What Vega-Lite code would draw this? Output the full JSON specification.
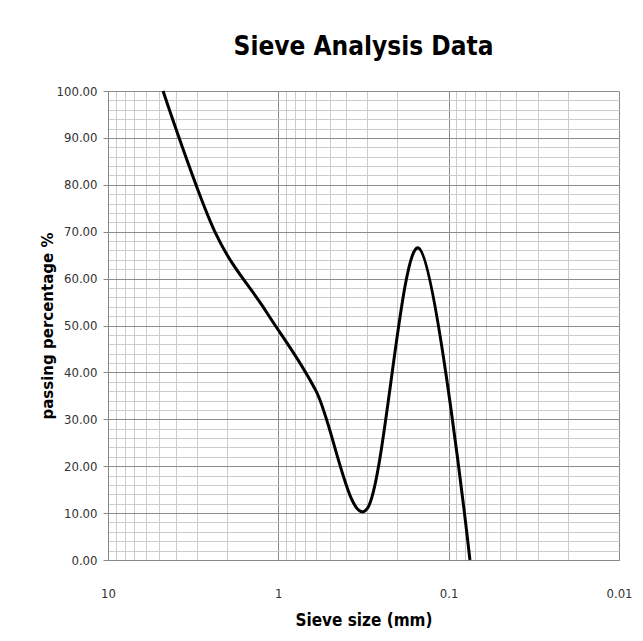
{
  "$schema": "https://vega.github.io/schema/vega-lite/v6.json",
  "width": 643,
  "height": 641,
  "autosize": {"type": "fit", "contains": "padding"},
  "padding": {"left": 40, "top": 34, "right": 10, "bottom": 13},
  "background": "white",
  "title": {
    "text": "Sieve Analysis Data",
    "font": "DejaVu Sans Condensed, sans-serif",
    "fontSize": 26,
    "fontWeight": "bold",
    "color": "black",
    "anchor": "middle",
    "offset": 25
  },
  "data": {
    "values": [
      {"size": 4.75, "passing": 100},
      {"size": 2.36, "passing": 70},
      {"size": 1.18, "passing": 53},
      {"size": 0.6, "passing": 36},
      {"size": 0.3, "passing": 11},
      {"size": 0.15, "passing": 66.5},
      {"size": 0.075, "passing": 0}
    ]
  },
  "mark": {"type": "line", "interpolate": "cardinal", "tension": 0, "color": "black", "strokeWidth": 3},
  "encoding": {
    "x": {
      "field": "size",
      "type": "quantitative",
      "title": "Sieve size (mm)",
      "scale": {"type": "log", "domain": [0.01, 10], "reverse": true, "nice": false},
      "axis": {
        "values": [10, 9, 8, 7, 6, 5, 4, 3, 2, 1, 0.9, 0.8, 0.7, 0.6, 0.5, 0.4, 0.3, 0.2, 0.1, 0.09, 0.08, 0.07, 0.06, 0.05, 0.04, 0.03, 0.02, 0.01],
        "format": "~g",
        "labelExpr": "datum.value == 10 || datum.value == 1 || datum.value == 0.1 || datum.value == 0.01 ? datum.label : ''",
        "labelFlush": false,
        "ticks": false,
        "labelPadding": 27,
        "labelFont": "DejaVu Sans Condensed, sans-serif",
        "labelFontSize": 13,
        "labelColor": "#333",
        "titleFont": "DejaVu Sans Condensed, sans-serif",
        "titleFontSize": 17,
        "titleFontWeight": "bold",
        "titleColor": "black",
        "titlePadding": 12,
        "domainColor": "#888",
        "grid": true,
        "gridColor": {
          "condition": {"test": "datum.value == 10 || datum.value == 1 || datum.value == 0.1 || datum.value == 0.01", "value": "#8c8c8c"},
          "value": "#cccccc"
        }
      }
    },
    "y": {
      "field": "passing",
      "type": "quantitative",
      "title": "passing  percentage %",
      "scale": {"domain": [0, 100], "nice": false},
      "axis": {
        "values": [0, 2, 4, 6, 8, 10, 12, 14, 16, 18, 20, 22, 24, 26, 28, 30, 32, 34, 36, 38, 40, 42, 44, 46, 48, 50, 52, 54, 56, 58, 60, 62, 64, 66, 68, 70, 72, 74, 76, 78, 80, 82, 84, 86, 88, 90, 92, 94, 96, 98, 100],
        "labelExpr": "datum.value % 10 == 0 ? format(datum.value, '.2f') : ''",
        "tickSize": 5,
        "tickColor": "#888",
        "tickOpacity": {"condition": {"test": "datum.value % 10 == 0", "value": 1}, "value": 0},
        "labelPadding": 6,
        "labelFont": "DejaVu Sans Condensed, sans-serif",
        "labelFontSize": 13,
        "labelColor": "#333",
        "titleFont": "DejaVu Sans, sans-serif",
        "titleFontSize": 15,
        "titleFontWeight": "bold",
        "titleColor": "black",
        "titlePadding": 1,
        "domainColor": "#888",
        "grid": true,
        "gridColor": {
          "condition": {"test": "datum.value % 10 == 0", "value": "#8c8c8c"},
          "value": "#cccccc"
        }
      }
    }
  },
  "config": {"view": {"stroke": null}}
}
